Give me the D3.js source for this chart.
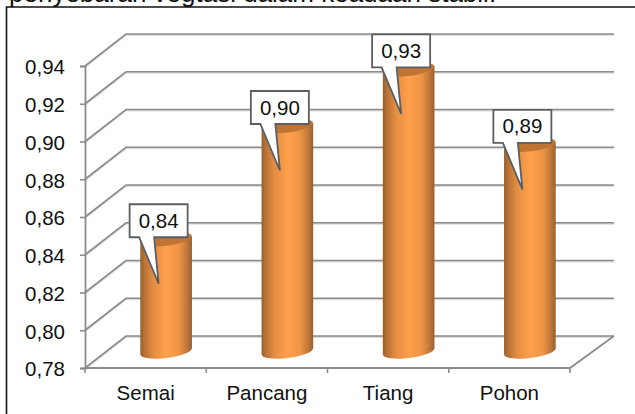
<!DOCTYPE html>
<html lang="en">
  <head>
    <meta charset="UTF-8" />
    <title>Semai Pancang Tiang Pohon</title>
    <script src="https://d3js.org/d3.v7.min.js"></script>
    <style>
      html, body {
        margin: 0;
        padding: 0;
        background: #fff;
        overflow: hidden;
      }
      svg {
        display: block;
        font-family: "Liberation Sans", Arial, sans-serif;
      }
      .tick text, .callout text {
        font-size: 20.5px;
        fill: #111;
      }
    </style>
  </head>
  <body>
    <div id="chart"></div>
    <script>
      const categories = ["Semai", "Pancang", "Tiang", "Pohon"];
      const values = [0.84, 0.9, 0.93, 0.89];
      const yTicks = [0.78, 0.8, 0.82, 0.84, 0.86, 0.88, 0.9, 0.92, 0.94];
      const captionText = "penyebaran vegtasi dalam keadaan stabil.";

      const width = 635, height = 414;
      const plot = { left: 85, right: 570, top: 66, bottom: 368 };
      // depth of the fake 3d box, the bars stand half way in
      const depthX = 41, depthY = 32;
      const gridColor = "#8c8c8c";

      const svg = d3
        .select("#chart")
        .append("svg")
        .attr("width", width)
        .attr("height", height);

      const x = d3.scaleBand().domain(categories).range([plot.left, plot.right]);
      const y = d3.scaleLinear().domain([0.78, 0.94]).range([plot.bottom, plot.top]);
      const comma = d3.formatLocale({
        decimal: ",",
        thousands: ".",
        grouping: [3],
        currency: ["", ""],
      }).format(".2f");

      const barX = (d) => x(d) + x.bandwidth() / 2 + depthX / 2;
      const barY = (v) => y(v) - depthY / 2 + 0.5;

      // gradient for the cylinder body
      const defs = svg.append("defs");
      const grad = defs
        .append("linearGradient")
        .attr("id", "body")
        .attr("x1", 0)
        .attr("x2", 1)
        .attr("y1", 0)
        .attr("y2", 0);
      [
        [0, "#96602f"],
        [0.08, "#b87236"],
        [0.25, "#e48d43"],
        [0.5, "#ffa04b"],
        [0.75, "#ee9445"],
        [0.92, "#bb7438"],
        [1, "#94602f"],
      ].forEach((s) =>
        grad.append("stop").attr("offset", s[0]).attr("stop-color", s[1])
      );

      svg
        .append("text")
        .attr("x", 9)
        .attr("y", 2)
        .attr("font-size", 26)
        .attr("fill", "#111")
        .text(captionText);

      // frame
      svg
        .append("path")
        .attr("d", `M6.5,${height}V7H${width}`)
        .attr("fill", "none")
        .attr("stroke", "#111")
        .attr("stroke-width", 1.6);

      // walls and floor
      const wall = (yy) =>
        `M${plot.left},${yy}L${plot.left + depthX},${yy - depthY}H${plot.right + depthX + 3}`;
      const grid = svg.append("g").attr("fill", "none");
      grid
        .selectAll(".shadow")
        .data(yTicks)
        .join("path")
        .attr("d", (d) => wall(y(d) + 1))
        .attr("stroke", "#dcdcdc")
        .attr("stroke-width", 2);
      grid
        .selectAll(".line")
        .data(yTicks)
        .join("path")
        .attr("d", (d) => wall(y(d)))
        .attr("stroke", gridColor)
        .attr("stroke-width", 1.6);
      grid
        .append("path")
        .attr(
          "d",
          `M${plot.left},${plot.bottom}H${plot.right}L${plot.right + depthX + 3},${plot.bottom - depthY}`
        )
        .attr("stroke", gridColor)
        .attr("stroke-width", 1.8);

      // axes
      const yAxis = svg
        .append("g")
        .attr("transform", `translate(${plot.left},0)`)
        .call(
          d3.axisLeft(y).tickValues(yTicks).tickFormat(comma).tickSize(5).tickPadding(15)
        );
      const xAxis = svg
        .append("g")
        .attr("transform", `translate(0,${plot.bottom})`)
        .call(d3.axisBottom(x).tickSize(0).tickPadding(17));
      yAxis.selectAll("line").attr("stroke", gridColor).attr("stroke-width", 1.6);
      yAxis
        .select(".domain")
        .attr("stroke", gridColor)
        .attr("stroke-width", 1.8);
      xAxis.select(".domain").remove();
      yAxis.selectAll("text").attr("dy", "0.38em");
      svg
        .append("g")
        .selectAll("line")
        .data(d3.range(categories.length + 1))
        .join("line")
        .attr("x1", (i) => plot.left + i * x.step())
        .attr("x2", (i) => plot.left + i * x.step())
        .attr("y1", plot.bottom)
        .attr("y2", plot.bottom + 5)
        .attr("stroke", gridColor)
        .attr("stroke-width", 1.6);

      // cylinders, ends are tilted a little so the right side sits higher
      const rx = x.bandwidth() * 0.213, ry = 6.5, tilt = -7, lift = 3.1;
      const baseY = barY(0.78) - 1;
      const bars = svg
        .append("g")
        .selectAll("g")
        .data(categories)
        .join("g")
        .attr("transform", (d) => `translate(${barX(d)},0)`);

      bars
        .append("ellipse")
        .attr("cy", baseY)
        .attr("rx", rx)
        .attr("ry", ry)
        .attr("transform", `rotate(${tilt} 0 ${baseY})`)
        .attr("fill", "url(#body)");
      bars
        .append("path")
        .attr("d", (d, i) => {
          const t = barY(values[i]);
          return `M${-rx},${t + lift}L${rx},${t - lift}V${baseY - lift}L${-rx},${baseY + lift}Z`;
        })
        .attr("fill", "url(#body)");
      bars
        .append("ellipse")
        .attr("cy", (d, i) => barY(values[i]))
        .attr("rx", rx)
        .attr("ry", ry)
        .attr("transform", (d, i) => `rotate(${tilt} 0 ${barY(values[i])})`)
        .attr("fill", "#c07433");

      // data callouts
      const boxW = 58, boxH = 33;
      const callouts = svg
        .append("g")
        .selectAll("g")
        .data(categories)
        .join("g")
        .attr("class", "callout")
        .attr(
          "transform",
          (d, i) => `translate(${barX(d) - 36.5},${barY(values[i]) - 35})`
        );
      callouts
        .append("path")
        .attr(
          "d",
          `M0,0H${boxW}V${boxH}H24.5L29,${boxH + 46.5}L9.5,${boxH}H0Z`
        )
        .attr("fill", "#fff")
        .attr("stroke", "#5a5f63")
        .attr("stroke-width", 1.8)
        .attr("stroke-linejoin", "miter");
      callouts
        .append("text")
        .attr("x", boxW / 2)
        .attr("y", boxH / 2 + 7)
        .attr("text-anchor", "middle")
        .text((d, i) => comma(values[i]));
    </script>
  </body>
</html>
